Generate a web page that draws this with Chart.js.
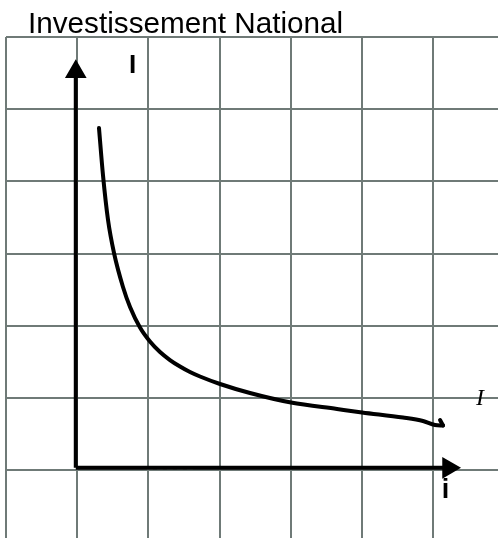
<!DOCTYPE html>
<html>
<head>
<meta charset="utf-8">
<title>Investissement National</title>
<script src="https://cdn.jsdelivr.net/npm/chart.js@4.4.1/dist/chart.umd.min.js"></script>
<style>
  html, body { margin: 0; padding: 0; background: #fff; }
  .wrapper { position: relative; width: 498px; height: 538px; }
</style>
</head>
<body>
<div class="wrapper">
  <canvas id="chart"></canvas>
</div>
<script>
// curve I(i), in grid units (one unit = one square)
const curveX = [0.306, 0.362, 0.433, 0.517, 0.643, 0.742, 0.882, 1.022, 1.163, 1.303, 1.444, 1.584, 1.725, 2.006, 2.427, 3.003, 3.649, 4.0, 4.576, 4.857, 5.025, 5.138];
const curveY = [4.739, 4.088, 3.464, 3.007, 2.536, 2.259, 1.975, 1.781, 1.635, 1.524, 1.434, 1.358, 1.296, 1.192, 1.067, 0.935, 0.845, 0.797, 0.727, 0.679, 0.624, 0.617];

// little hook at the end of the curve
const hookX = [5.138, 5.096];
const hookY = [0.617, 0.693];

// axes of the sketch
const originX = -0.02;
const originY = 0.03;
const yAxisTop = 5.52;
const xAxisEnd = 5.215;

// short dashed segment under the i axis
const dashX = [0.98, 1.626];
const dashY = [0.014, 0.014];

// square grid
const gridX = [-1, 0, 1, 2, 3, 4, 5, 6];
const gridY = [0, 1, 2, 3, 4, 5, 6];

const titleText = "Investissement National";
const yLabel = "I";
const xLabel = "i";
const curveLabel = "I";

const $canvas = document.querySelector("#chart");

function toPoints(xs, ys)
{
  let points = [];
  xs.forEach((x, n) =>
  {
    points.push({ x: x, y: ys[n] });
  });
  return points;
}

const textPlugin = {
  id: "sketchText",
  afterDraw(chart)
  {
    let ctx = chart.ctx;
    let sx = chart.scales.x;
    let sy = chart.scales.y;

    ctx.save();
    ctx.fillStyle = "#000";
    ctx.textBaseline = "alphabetic";
    ctx.textAlign = "left";

    ctx.font = "29.7px 'Liberation Sans', Arial, sans-serif";
    ctx.fillText(titleText, 28, 33);

    ctx.font = "bold 26px 'Liberation Sans', Arial, sans-serif";
    ctx.fillText(yLabel, sx.getPixelForValue(0.728), sy.getPixelForValue(5.50));

    ctx.font = "bold 27px 'Liberation Sans', Arial, sans-serif";
    ctx.fillText(xLabel, sx.getPixelForValue(5.12), sy.getPixelForValue(-0.388));

    ctx.font = "italic 24px 'Liberation Serif', 'Times New Roman', serif";
    ctx.fillText(curveLabel, sx.getPixelForValue(5.60), sy.getPixelForValue(0.90));
    ctx.restore();
  }
};

let config = {
  type: "scatter",
  data: {
    datasets: [
      {
        label: "axe I",
        data: toPoints([originX, originX], [originY, yAxisTop]),
        showLine: true,
        borderColor: "#000",
        backgroundColor: "#000",
        borderWidth: 4,
        pointStyle: "triangle",
        pointRadius: [0, 8.5],
        rotation: 0
      },
      {
        label: "axe i",
        data: toPoints([originX, xAxisEnd], [originY, originY]),
        showLine: true,
        borderColor: "#000",
        backgroundColor: "#000",
        borderWidth: 4,
        pointStyle: "triangle",
        pointRadius: [0, 8.5],
        rotation: 90
      },
      {
        label: "I",
        data: toPoints(curveX, curveY),
        showLine: true,
        borderColor: "#000",
        borderWidth: 4,
        borderCapStyle: "round",
        pointRadius: 0,
        cubicInterpolationMode: "monotone"
      },
      {
        label: "hook",
        data: toPoints(hookX, hookY),
        showLine: true,
        borderColor: "#000",
        borderWidth: 4,
        borderCapStyle: "round",
        pointRadius: 0
      },
      {
        label: "dash",
        data: toPoints(dashX, dashY),
        showLine: true,
        borderColor: "#8d9693",
        borderWidth: 2,
        borderDash: [6, 4],
        pointRadius: 0
      }
    ]
  },
  options: {
    responsive: true,
    maintainAspectRatio: false,
    animation: false,
    layout: { autoPadding: false, padding: { left: 6, top: 37, right: 0, bottom: 0 } },
    plugins: {
      legend: { display: false },
      tooltip: { enabled: false },
      title: { display: false }
    },
    scales: {
      x: {
        type: "linear",
        min: -1,
        max: 5.91,
        afterBuildTicks: scale => { scale.ticks = gridX.map(v => ({ value: v })); },
        ticks: { display: false },
        grid: { color: "#6f7a77", lineWidth: 2, drawTicks: false },
        border: { display: false }
      },
      y: {
        type: "linear",
        min: -0.942,
        max: 6,
        afterBuildTicks: scale => { scale.ticks = gridY.map(v => ({ value: v })); },
        ticks: { display: false },
        grid: { color: "#6f7a77", lineWidth: 2, drawTicks: false },
        border: { display: false }
      }
    }
  },
  plugins: [textPlugin]
};

new Chart($canvas, config);
</script>
</body>
</html>
